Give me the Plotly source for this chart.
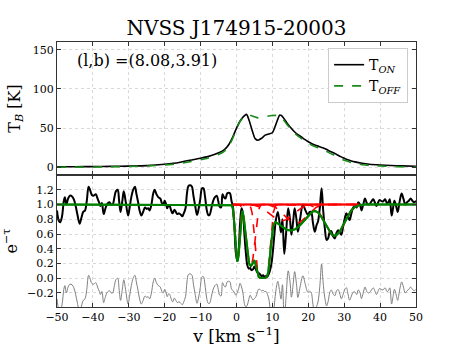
import numpy as np
import plotly.graph_objects as go
from plotly.subplots import make_subplots

# ---------------- data ----------------
title_text = "NVSS J174915-20003"
coord_text = "(l,b) =(8.08,3.91)"

# emission spectra (top panel)
v_em = [-50, -45, -40, -35, -30, -25, -20, -16, -13, -10, -8, -6, -4, -3, -2, -1, 0, 1, 2, 2.8,
        3.5, 4.5, 5.2, 6, 7, 8, 9, 10, 11, 12, 12.5, 13, 14, 15, 16, 17, 18, 19, 20, 21, 22, 23,
        24, 25, 26, 27, 28, 29, 30, 31, 32, 33, 35, 37, 40, 43, 46, 50]
T_on = [0.5, 0.6, 0.8, 1.0, 1.4, 2.0, 3.8, 6, 9, 11.5, 13.5, 16.5, 20.5, 24, 30, 39, 50, 59, 65, 67.5,
        60, 45, 36.5, 34.5, 37, 41, 42.5, 44, 55, 66.5, 66, 63.5, 57, 51, 46, 42, 39, 35.5, 32.5, 30, 28, 26.5,
        25, 23, 20.5, 18.5, 16, 13.5, 11.5, 9.5, 8, 6.8, 5, 3.8, 2.8, 2.2, 1.7, 1.2]
v_off = [-50, -45, -40, -35, -30, -25, -20, -16, -13, -10, -8, -6, -4, -3, -2, -1, 0, 1, 2, 2.8,
         4, 5, 6, 7, 8, 9, 10, 11, 12, 13, 14, 15, 16, 17, 18, 19, 20, 21, 22, 23, 24, 25, 26, 27,
         28, 29, 30, 31, 32, 33, 35, 37, 40, 43, 46, 50]
T_off = [0, 0.1, 0.3, 0.5, 0.9, 1.5, 2.8, 4.5, 7, 9.5, 11.5, 14.5, 18.5, 22, 28, 37.5, 49, 58.5, 64.5, 66.5,
         66, 64.5, 63, 63.5, 64.5, 65.5, 66, 66.2, 65.5, 61, 55, 49.5, 44.5, 40.5, 37, 33.5, 30.5, 28, 26, 24.5,
         22.5, 20.5, 18, 16, 13.5, 11, 9, 7.5, 6, 4.8, 3.2, 2.2, 1.5, 0.9, 0.5, 0.2]

# absorption spectrum (bottom panel)
v_abs = [-50, -49.5, -49.1, -48.6, -48.1, -47.8, -47.4, -46.9, -46.4, -45.8, -45.3, -44.8, -44.3, -43.7,
         -43.2, -42.7, -42.2, -41.7, -41.2, -40.8, -40.3, -39.8, -39.2, -38.7, -38.2, -37.9, -37.5, -37.0,
         -36.5, -36.0, -35.4, -34.9, -34.5, -34.0, -33.6, -33.1, -32.7, -32.3, -31.8, -31.4, -30.9, -30.2,
         -29.8, -29.3, -28.8, -28.3, -27.9, -27.4, -27.0, -26.5, -26.0, -25.5, -25.0, -24.6, -24.2, -23.7,
         -23.2, -22.8, -22.3, -21.8, -21.2, -20.8, -20.4, -20.0, -19.6, -19.3, -18.9, -18.6, -18.2, -17.8,
         -17.3, -16.9, -16.5, -16.0, -15.5, -15.1, -14.7, -14.2, -13.8, -13.4, -12.9, -12.4, -12.0, -11.5,
         -11.0, -10.6, -10.1, -9.6, -9.2, -8.8, -8.3, -7.9, -7.5, -7.0, -6.5, -6.0, -5.5, -5.1, -4.7, -4.3,
         -3.9, -3.5, -3.1, -2.6, -2.2, -1.8, -1.4, -1.0, -0.6, -0.2, 0.2, 0.6, 1.0, 1.4, 1.8, 2.2, 2.6, 3.0,
         3.4, 3.8, 4.2, 4.6, 5.0, 5.4, 5.8, 6.2, 6.6, 7.0, 7.4, 7.8, 8.2, 8.6, 9.0, 9.4, 9.8, 10.2, 10.6,
         11.0, 11.5, 12.0, 12.4, 12.8, 13.3, 13.8, 14.4, 14.9, 15.3, 15.8, 16.2, 16.7, 17.1, 17.7, 18.5,
         19.2, 19.9, 20.4, 20.8, 21.3, 21.8, 22.3, 22.7, 23.2, 23.7, 24.1, 24.6, 25.1, 25.5, 26.0, 26.4,
         26.9, 27.4, 27.9, 28.3, 28.8, 29.2, 29.7, 30.2, 30.6, 31.1, 31.5, 32.0, 32.5, 33.0, 33.5, 33.9,
         34.4, 34.8, 35.3, 35.8, 36.3, 36.8, 37.3, 37.7, 38.1, 38.6, 39.0, 39.4, 39.8, 40.3, 40.8, 41.4,
         41.9, 42.3, 42.7, 43.2, 43.6, 44.0, 44.5, 44.9, 45.3, 45.6, 46.0, 46.5, 47.0, 47.5, 48.0, 48.5,
         49.0, 49.5, 50.0]
e_tau_obs = [0.92, 0.78, 0.76, 0.84, 1.05, 1.1, 1.0, 1.08, 1.12, 1.11, 1.07, 0.98, 0.86, 0.74,
             0.82, 0.9, 0.92, 1.05, 1.24, 1.2, 1.13, 1.12, 1.14, 1.08, 1.02, 0.98, 1.02, 0.87,
             0.95, 1.01, 1.03, 1.0, 1.0, 1.1, 1.18, 1.2, 1.05, 0.9, 1.05, 1.18, 1.05, 0.85,
             0.95, 1.1, 1.2, 1.24, 1.15, 1.03, 0.92, 0.85, 0.9, 0.96, 0.94, 0.95, 0.92, 1.0,
             1.15, 1.2, 1.14, 1.1, 1.08, 1.02, 1.0, 1.05, 1.0, 0.95, 0.99, 0.98, 0.92, 0.88,
             0.93, 0.9, 0.87, 0.88, 0.86, 0.84, 0.88, 0.95, 1.15, 1.25, 1.26, 1.24, 1.12, 0.98,
             0.86, 0.93, 1.07, 1.22, 1.22, 1.12, 0.93, 0.86, 0.86, 0.95, 1.05, 1.1, 1.12, 1.05, 0.97, 0.96,
             1.14, 1.1, 1.08, 1.15, 1.16, 1.15, 1.05, 0.97, 0.72, 0.35, 0.24, 0.38, 0.75, 0.95, 0.88, 0.6, 0.35, 0.18,
             0.13, 0.14, 0.11, 0.12, 0.16, 0.12, 0.08, 0.07, 0.05, 0.03, 0.04, 0.02, 0.03, 0.02, 0.06, 0.12, 0.22, 0.4, 0.62,
             0.8, 0.9, 0.75, 0.62, 0.8, 0.33, 0.6, 0.95, 0.8, 0.59, 0.78, 0.95, 0.8, 0.63, 0.8, 1.0,
             0.92, 0.86, 0.9, 0.9, 0.75, 0.63, 0.72, 0.77, 0.95, 1.22, 0.95, 0.68, 0.52, 0.54, 0.63, 0.64,
             0.57, 0.54, 0.62, 0.65, 0.62, 0.59, 0.7, 0.82, 0.88, 0.83, 0.79, 0.88, 0.96, 0.98, 0.96, 1.03,
             1.0, 0.92, 1.0, 1.08, 1.02, 1.0, 1.02, 1.05, 1.07, 1.02, 0.98, 1.02, 1.06, 1.05, 1.04, 1.07,
             1.02, 1.03, 1.07, 0.85, 0.95, 1.05, 0.97, 0.9, 1.0, 1.08, 1.15, 1.08, 1.0, 1.03, 1.05, 1.08,
             1.05, 1.03, 1.05]

# Gaussian optical-depth components of the fit
comp_v0 = [0.25, 3.9, 7.3, 12.5, 16.5, 27.3]
comp_tau = [1.45, 1.75, 6.96, 0.25, 0.30, 0.55]
comp_sigma = [0.5, 0.9, 1.04, 3.0, 2.8, 2.4]
fit_window = [-1.0, 34.0]
continuum = 1.0
resid_offset = -0.2

# ---------------- model ----------------
def tau_comp(v, i):
    return comp_tau[i] * np.exp(-(np.asarray(v) - comp_v0[i]) ** 2 / (2 * comp_sigma[i] ** 2))

def fit_model(v):
    tot = np.zeros_like(np.asarray(v, dtype=float))
    for i in range(len(comp_v0)):
        tot = tot + tau_comp(v, i)
    return continuum * np.exp(-tot)

v_fine = np.linspace(-50, 50, 2001)
v_win = np.linspace(fit_window[0], fit_window[1], 1401)
resid = np.array(e_tau_obs) - fit_model(v_abs) + resid_offset

# ---------------- figure ----------------
SERIF = "DejaVu Serif"
fig = make_subplots(rows=2, cols=1, shared_xaxes=True, vertical_spacing=0)

fig.add_trace(go.Scatter(x=v_em, y=T_on, mode="lines",
                         line=dict(color="black", width=1.6, shape="spline", smoothing=0.6),
                         name="T<sub><i>ON</i></sub>"), row=1, col=1)
fig.add_trace(go.Scatter(x=v_off, y=T_off, mode="lines",
                         line=dict(color="#1a8a1a", width=1.6, dash="dash", shape="spline", smoothing=0.6),
                         name="T<sub><i>OFF</i></sub>"), row=1, col=1)

fig.add_trace(go.Scatter(x=v_abs, y=resid, mode="lines", line=dict(color="gray", width=1, shape="spline"),
                         showlegend=False), row=2, col=1)
fig.add_trace(go.Scatter(x=v_abs, y=e_tau_obs, mode="lines", line=dict(color="black", width=2, shape="spline"),
                         showlegend=False), row=2, col=1)
fig.add_trace(go.Scatter(x=v_fine, y=fit_model(v_fine), mode="lines", line=dict(color="green", width=2),
                         showlegend=False), row=2, col=1)
fig.add_trace(go.Scatter(x=v_win, y=np.full_like(v_win, continuum), mode="lines",
                         line=dict(color="red", width=2), showlegend=False), row=2, col=1)
for i in range(len(comp_v0)):
    fig.add_trace(go.Scatter(x=v_win, y=continuum * np.exp(-tau_comp(v_win, i)), mode="lines",
                             line=dict(color="red", width=1.6, dash="dash"), showlegend=False), row=2, col=1)
fig.add_trace(go.Scatter(x=v_fine, y=fit_model(v_fine), mode="lines", line=dict(color="green", width=2),
                         showlegend=False, hoverinfo="skip"), row=2, col=1)

axis_common = dict(showline=True, linecolor="#333", linewidth=1, mirror="allticks", ticks="inside",
                   ticklen=4, tickcolor="#333", showgrid=True, gridcolor="#d9d9d9", griddash="dot",
                   gridwidth=1, zeroline=False, automargin=False,
                   tickfont=dict(family=SERIF, size=11, color="black"))

fig.update_xaxes(range=[-50, 50], dtick=10, tick0=-50, **axis_common)
fig.update_xaxes(showticklabels=False, row=1, col=1)
fig.update_xaxes(title=dict(text="v [km s<sup>−1</sup>]", font=dict(family=SERIF, size=17, color="black"),
                            standoff=4), row=2, col=1)
fig.update_yaxes(range=[-10, 160], tickvals=[0, 50, 100, 150], row=1, col=1, **axis_common)
fig.update_yaxes(title=dict(text="T<sub><i>B</i></sub> [K]", font=dict(family=SERIF, size=16, color="black"),
                            standoff=8), row=1, col=1)
fig.update_yaxes(range=[-0.39, 1.4], tickvals=[-0.2, 0.0, 0.2, 0.4, 0.6, 0.8, 1.0, 1.2],
                 ticktext=["−0.2", "0.0", "0.2", "0.4", "0.6", "0.8", "1.0", "1.2"], row=2, col=1, **axis_common)
fig.update_yaxes(title=dict(text="e<sup>−τ</sup>", font=dict(family=SERIF, size=16, color="black"),
                            standoff=8), row=2, col=1)

fig.update_layout(
    width=463, height=347,
    margin=dict(l=57, r=47, t=42, b=40, autoexpand=False),
    paper_bgcolor="white", plot_bgcolor="white",
    title=dict(text=title_text, x=0.5, xref="paper", y=1 - 28 / 347, yanchor="middle",
               font=dict(family=SERIF, size=20, color="black")),
    legend=dict(x=0.978, y=0.977, xanchor="right", yanchor="top", bgcolor="white",
                bordercolor="#cccccc", borderwidth=1, font=dict(family=SERIF, size=14, color="black"),
                itemwidth=30, tracegroupgap=2),
    showlegend=True,
    font=dict(family=SERIF, color="black"),
)
fig.update_layout(yaxis=dict(domain=[0.498, 1.0]), yaxis2=dict(domain=[0.0, 0.498]))
fig.add_annotation(text=coord_text, xref="paper", yref="paper", x=0.05, y=0.932, xanchor="left",
                   yanchor="middle", showarrow=False, font=dict(family=SERIF, size=16, color="black"))

fig.write_html("out.html", config={"displayModeBar": False},
               post_script="document.body.style.margin='0';document.body.style.overflow='hidden';")
